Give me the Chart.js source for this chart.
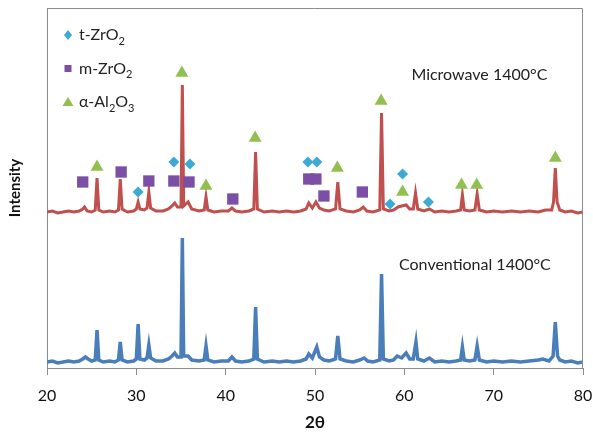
<!DOCTYPE html>
<html>
<head>
<meta charset="utf-8">
<script src="https://cdn.jsdelivr.net/npm/chart.js@4.4.1/dist/chart.umd.min.js"></script>
<style>
  html, body { margin: 0; padding: 0; background: #fff; }
  #wrap { width: 593px; height: 440px; }
</style>
</head>
<body>
<div id="wrap"><canvas id="xrd"></canvas></div>
<script>
// 2-theta vs intensity (arbitrary units, curves offset as in the figure)
const microwave = [
  [20.0,156],[20.6,157],[21.2,155],[21.8,156],[22.4,157],[23.0,156],[23.6,157],[24.0,159],[24.2,161],[24.5,157],
  [25.0,156],[25.4,158],[25.6,190],[25.8,158],[26.3,156],[27.0,157],[27.6,156],[28.0,158],[28.2,189],[28.4,159],
  [29.0,156],[29.7,157],[30.0,159],[30.2,166],[30.4,159],[30.9,158],[31.2,160],[31.4,176],[31.6,160],[32.2,157],
  [33.0,157],[33.6,159],[34.0,162],[34.3,165],[34.6,161],[35.0,161],[35.15,283],[35.3,162],
  [35.8,166],[36.2,159],[37.0,157],[37.6,158],[37.8,171],[38.0,158],[38.7,156],[39.5,157],[40.3,157],[40.7,160],
  [41.1,157],[41.8,156],[42.6,157],[43.15,159],[43.35,216],[43.55,159],[44.3,156],[45.2,157],[46.0,156],[46.8,157],
  [47.6,156],[48.4,157],[49.0,159],[49.3,165],[49.7,160],[50.1,166],[50.5,160],[51.0,158],[51.6,157],[52.3,159],
  [52.55,186],[52.8,159],[53.5,157],[54.3,156],[55.0,158],[55.4,161],[55.8,157],[56.5,156],[57.25,158],
  [57.45,255],[57.65,159],[58.3,157],[58.8,158],[59.3,161],[59.7,162],[60.2,163],[60.6,159],[61.0,159],
  [61.25,175],[61.5,159],[62.2,157],[62.8,159],[63.4,156],[64.2,157],[65.0,156],[65.8,157],[66.3,158],[66.5,173],
  [66.7,158],[67.3,157],[67.9,158],[68.15,174],[68.4,158],[69.2,156],[70.0,157],[71.0,156],[72.0,157],[73.0,156],
  [74.0,157],[75.0,156],[75.8,158],[76.5,158],[76.7,166],[76.9,200],[77.1,166],[77.4,158],[78.0,156],[78.7,157],
  [79.4,155],[80.0,156]
];

const conventional = [
  [20.0,6],[20.6,7],[21.2,5],[21.8,6],[22.4,7],[23.0,6],[23.6,7],[24.0,9],[24.3,11],[24.6,9],
  [25.0,7],[25.4,8],[25.6,38],[25.8,8],[26.3,6],[27.0,7],[27.6,6],[28.0,8],[28.2,26],[28.4,8],
  [29.0,6],[29.7,7],[30.0,9],[30.2,44],[30.4,9],[30.9,8],[31.2,10],[31.4,23],[31.6,10],[32.2,7],
  [33.0,7],[33.6,9],[34.0,12],[34.3,15],[34.6,11],[35.0,11],[35.15,130],[35.3,12],
  [35.8,12],[36.2,8],[37.0,7],[37.6,8],[37.8,22],[38.0,8],[38.7,6],[39.5,7],[40.3,7],[40.7,11],
  [41.1,7],[41.8,6],[42.6,7],[43.15,9],[43.35,61],[43.55,9],[44.3,6],[45.2,7],[46.0,6],[46.8,7],
  [47.6,6],[48.4,7],[49.0,9],[49.3,14],[49.7,10],[50.2,21],[50.5,11],[51.0,8],[51.6,7],[52.3,9],
  [52.55,32],[52.8,9],[53.5,7],[54.3,6],[55.0,8],[55.5,10],[55.9,7],[56.5,6],[57.25,8],
  [57.45,94],[57.65,9],[58.3,7],[58.8,8],[59.2,12],[59.7,10],[60.2,15],[60.6,9],[61.0,9],
  [61.3,26],[61.5,9],[62.2,7],[62.8,10],[63.4,6],[64.2,7],[65.0,6],[65.8,7],[66.3,8],[66.5,21],
  [66.7,8],[67.3,7],[67.9,8],[68.15,22],[68.4,8],[69.2,6],[70.0,7],[71.0,6],[72.0,7],[73.0,6],
  [74.0,7],[75.0,8],[75.5,9],[76.2,7],[76.65,12],[76.9,46],[77.15,12],[77.4,8],[78.0,6],[78.7,7],
  [79.4,5],[80.0,6]
];

// phase markers placed above the microwave peaks
const tZrO2Peaks = [[30.2,176],[34.2,206],[36.0,204],[49.2,206],[50.2,206],[58.4,164],[59.8,194],[62.7,166]];
const mZrO2Peaks = [[24.0,186],[28.3,196],[31.4,187],[34.2,187],[35.9,186],[40.8,169],[49.3,189],[50.1,189],[51.0,172],[55.3,176]];
const alphaAl2O3Peaks = [[25.6,201],[35.1,295],[37.8,182],[43.3,230],[52.5,200],[57.4,267],[59.8,176],[66.4,183],[68.1,183],[76.9,210]];

const xTicks = [20, 30, 40, 50, 60, 70, 80];

const legendItems = [
  { style: 'diamond', color: '#3DAAD2', parts: [['t-ZrO', 0], ['2', 1]] },
  { style: 'square', color: '#7B4FA6', parts: [['m-ZrO', 0], ['2', 1]] },
  { style: 'triangle', color: '#92C050', parts: [['\u03b1-Al', 0], ['2', 1], ['O', 0], ['3', 1]] }
];

const curveLabels = [
  { text: 'Microwave 1400\u00b0C', x: 68.4, y: 293 },
  { text: 'Conventional 1400\u00b0C', x: 67.9, y: 103 }
];

const FONT = 'Lato, "Open Sans", sans-serif';

function drawMarker(ctx, style, x, y, s) {
  ctx.beginPath();
  if (style === 'diamond') {
    ctx.moveTo(x, y - s); ctx.lineTo(x + s * 0.8, y); ctx.lineTo(x, y + s); ctx.lineTo(x - s * 0.8, y);
  } else if (style === 'square') {
    ctx.rect(x - s, y - s, 2 * s, 2 * s);
  } else {
    ctx.moveTo(x, y - s); ctx.lineTo(x + s * 1.1, y + s * 0.8); ctx.lineTo(x - s * 1.1, y + s * 0.8);
  }
  ctx.closePath();
  ctx.fill();
}

const annotations = {
  id: 'annotations',
  afterDraw(chart) {
    const { ctx, chartArea: a, scales } = chart;
    ctx.save();
    // top and right frame
    ctx.strokeStyle = '#8c8c8c';
    ctx.lineWidth = 1;
    ctx.beginPath();
    ctx.moveTo(a.left, a.top + 0.5);
    ctx.lineTo(a.right - 0.5, a.top + 0.5);
    ctx.lineTo(a.right - 0.5, a.bottom);
    ctx.stroke();

    // legend
    ctx.textBaseline = 'middle';
    ctx.textAlign = 'left';
    legendItems.forEach((item, i) => {
      const cy = a.top + 27 + i * 33.5;
      ctx.fillStyle = item.color;
      const sz = item.style === 'diamond' ? 5 : item.style === 'square' ? 3.5 : 5;
      drawMarker(ctx, item.style, a.left + 21, cy, sz);
      let tx = a.left + 32;
      ctx.fillStyle = '#222';
      item.parts.forEach(([t, sub]) => {
        ctx.font = (sub ? '11px ' : '16px ') + FONT;
        ctx.fillText(t, tx, sub ? cy + 6 : cy);
        tx += ctx.measureText(t).width;
      });
    });

    // curve labels
    ctx.font = '16px ' + FONT;
    ctx.textAlign = 'center';
    ctx.fillStyle = '#222';
    curveLabels.forEach(l => {
      ctx.fillText(l.text, scales.x.getPixelForValue(l.x), scales.y.getPixelForValue(l.y));
    });
    ctx.restore();
  }
};

const markerSet = (data, style, color, radius) => ({
  type: 'scatter',
  data: data,
  pointStyle: style,
  pointRadius: radius,
  pointHoverRadius: radius,
  pointBackgroundColor: color,
  pointBorderWidth: 0,
  showLine: false
});

new Chart(document.getElementById('xrd'), {
  type: 'line',
  data: {
    datasets: [
      markerSet(tZrO2Peaks, 'rectRot', '#3DAAD2', 5.5),
      markerSet(mZrO2Peaks, 'rect', '#7B4FA6', 8),
      markerSet(alphaAl2O3Peaks, 'triangle', '#92C050', 7.5),
      {
        data: microwave,
        borderColor: '#C0504D',
        borderWidth: 3,
        pointRadius: 0,
        tension: 0
      },
      {
        data: conventional,
        borderColor: '#4A7EBB',
        borderWidth: 3.5,
        pointRadius: 0,
        tension: 0
      }
    ]
  },
  options: {
    responsive: true,
    maintainAspectRatio: false,
    animation: false,
    layout: { padding: { top: 8, right: 0, left: 0, bottom: 0 } },
    plugins: {
      legend: { display: false },
      tooltip: { enabled: false }
    },
    scales: {
      x: {
        type: 'linear',
        min: 20,
        max: 80,
        afterBuildTicks: axis => { axis.ticks = xTicks.map(v => ({ value: v })); },
        afterFit: axis => { axis.height = 72; axis.paddingRight = 10; axis.paddingLeft = 0; },
        grid: { drawOnChartArea: false, drawTicks: true, tickLength: 7, color: '#8c8c8c' },
        border: { color: '#8c8c8c' },
        ticks: { color: '#111', padding: 11, font: { family: FONT, size: 16 } },
        title: {
          display: true,
          text: '2\u03b8',
          color: '#111',
          padding: { top: 0, bottom: 7 },
          font: { family: FONT, size: 17, weight: 'bold' }
        }
      },
      y: {
        min: 0,
        max: 360,
        afterFit: axis => { axis.width = 47; },
        grid: { display: false },
        border: { color: '#8c8c8c' },
        ticks: { display: false },
        title: {
          display: true,
          text: 'Intensity',
          color: '#111',
          padding: { top: 6, bottom: 0 },
          font: { family: FONT, size: 15, weight: 'bold' }
        }
      }
    }
  },
  plugins: [annotations]
});
</script>
</body>
</html>
